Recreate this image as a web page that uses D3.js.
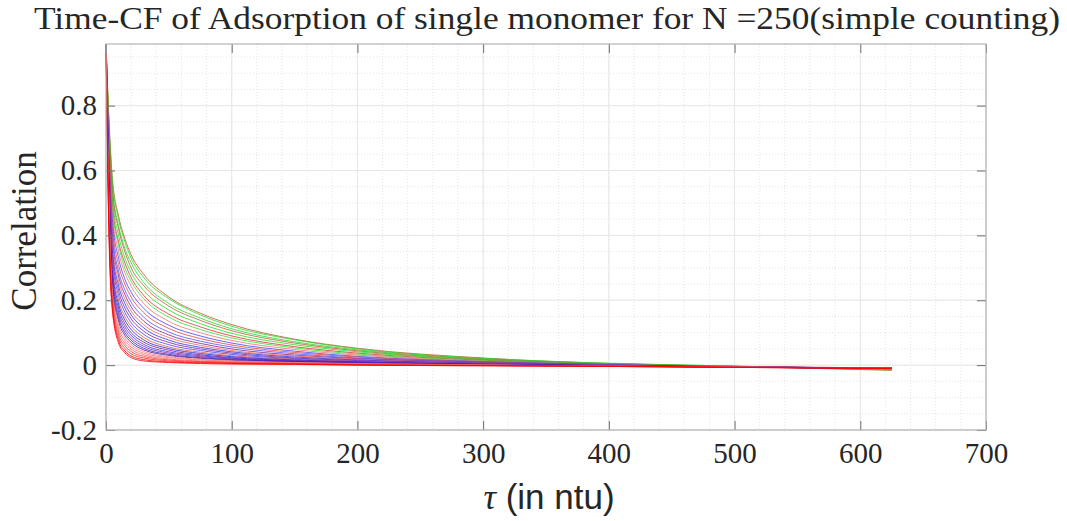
<!DOCTYPE html>
<html>
<head>
<meta charset="utf-8">
<script src="https://cdn.jsdelivr.net/npm/d3@7"></script>
<style>
  body { margin: 0; background: #fff; }
  text { fill: #262626; }
</style>
</head>
<body>
<div id="chart"></div>
<script>
// sample lags (ntu) shared by every curve
var tau = [0, 2, 5, 10, 15, 20, 30, 50, 75, 100, 150, 200, 300, 400, 500, 625];

// correlation values, slowest decay first
var curves = [
  [0.99, 0.79, 0.58, 0.46, 0.39, 0.34, 0.28, 0.21, 0.16, 0.125, 0.08, 0.052, 0.022, 0.005, -0.004, -0.012],
  [0.99, 0.78, 0.57, 0.45, 0.38, 0.33, 0.27, 0.205, 0.155, 0.12, 0.078, 0.05, 0.021, 0.006, -0.003, -0.014],
  [0.99, 0.77, 0.55, 0.43, 0.36, 0.315, 0.255, 0.19, 0.145, 0.112, 0.072, 0.047, 0.02, 0.005, -0.003, -0.015],
  [0.99, 0.76, 0.54, 0.42, 0.35, 0.30, 0.245, 0.182, 0.138, 0.106, 0.068, 0.044, 0.018, 0.004, -0.004, -0.016],
  [0.99, 0.75, 0.52, 0.40, 0.33, 0.285, 0.23, 0.17, 0.128, 0.098, 0.063, 0.041, 0.017, 0.004, -0.004, -0.012],
  [0.99, 0.74, 0.50, 0.38, 0.315, 0.27, 0.215, 0.157, 0.118, 0.09, 0.057, 0.037, 0.015, 0.003, -0.004, -0.01],
  [0.99, 0.73, 0.49, 0.37, 0.30, 0.258, 0.205, 0.148, 0.11, 0.084, 0.053, 0.034, 0.014, 0.003, -0.004, -0.013],
  [0.99, 0.72, 0.47, 0.35, 0.285, 0.243, 0.19, 0.135, 0.1, 0.076, 0.048, 0.031, 0.012, 0.002, -0.005, -0.01],
  [0.99, 0.70, 0.45, 0.33, 0.265, 0.225, 0.175, 0.123, 0.09, 0.068, 0.043, 0.027, 0.011, 0.002, -0.005, -0.009],
  [0.99, 0.69, 0.43, 0.31, 0.25, 0.21, 0.162, 0.113, 0.082, 0.062, 0.039, 0.025, 0.01, 0.001, -0.005, -0.01],
  [0.99, 0.68, 0.41, 0.29, 0.232, 0.194, 0.148, 0.102, 0.074, 0.056, 0.035, 0.022, 0.009, 0.001, -0.005, -0.009],
  [0.99, 0.67, 0.39, 0.275, 0.218, 0.18, 0.136, 0.093, 0.067, 0.05, 0.031, 0.02, 0.008, 0.0, -0.005, -0.01],
  [0.99, 0.66, 0.37, 0.26, 0.204, 0.167, 0.125, 0.085, 0.061, 0.045, 0.028, 0.018, 0.007, 0.0, -0.006, -0.008],
  [0.99, 0.65, 0.355, 0.245, 0.19, 0.155, 0.115, 0.077, 0.055, 0.041, 0.025, 0.016, 0.006, 0.0, -0.006, -0.009],
  [0.99, 0.64, 0.34, 0.23, 0.176, 0.143, 0.105, 0.07, 0.05, 0.037, 0.022, 0.014, 0.005, -0.001, -0.006, -0.01],
  [0.99, 0.63, 0.325, 0.215, 0.163, 0.131, 0.095, 0.063, 0.045, 0.033, 0.02, 0.012, 0.004, -0.001, -0.006, -0.009],
  [0.99, 0.62, 0.31, 0.2, 0.15, 0.12, 0.086, 0.056, 0.04, 0.029, 0.018, 0.011, 0.004, -0.001, -0.006, -0.008],
  [0.99, 0.61, 0.295, 0.188, 0.139, 0.11, 0.078, 0.051, 0.036, 0.026, 0.016, 0.01, 0.003, -0.002, -0.006, -0.009],
  [0.99, 0.60, 0.28, 0.176, 0.128, 0.1, 0.071, 0.046, 0.032, 0.023, 0.014, 0.009, 0.003, -0.002, -0.006, -0.01],
  [0.99, 0.59, 0.27, 0.165, 0.118, 0.092, 0.064, 0.041, 0.029, 0.021, 0.013, 0.008, 0.002, -0.002, -0.006, -0.008],
  [0.99, 0.58, 0.26, 0.155, 0.109, 0.084, 0.058, 0.037, 0.026, 0.019, 0.012, 0.007, 0.002, -0.002, -0.006, -0.009],
  [0.99, 0.575, 0.25, 0.145, 0.1, 0.077, 0.052, 0.033, 0.023, 0.017, 0.011, 0.006, 0.002, -0.002, -0.006, -0.01],
  [0.99, 0.57, 0.24, 0.135, 0.092, 0.07, 0.047, 0.03, 0.021, 0.015, 0.01, 0.006, 0.001, -0.003, -0.006, -0.008],
  [0.99, 0.56, 0.23, 0.125, 0.084, 0.063, 0.042, 0.026, 0.018, 0.013, 0.008, 0.005, 0.001, -0.003, -0.006, -0.009],
  [0.99, 0.55, 0.22, 0.115, 0.076, 0.056, 0.037, 0.023, 0.016, 0.011, 0.007, 0.004, 0.0, -0.003, -0.006, -0.008],
  [0.99, 0.54, 0.21, 0.105, 0.068, 0.049, 0.032, 0.019, 0.013, 0.009, 0.006, 0.003, 0.0, -0.003, -0.006, -0.009],
  [0.99, 0.52, 0.2, 0.095, 0.06, 0.042, 0.027, 0.016, 0.011, 0.008, 0.005, 0.002, -0.001, -0.003, -0.006, -0.008],
  [0.99, 0.50, 0.19, 0.085, 0.052, 0.035, 0.022, 0.013, 0.009, 0.006, 0.004, 0.001, -0.001, -0.004, -0.007, -0.009],
  [0.99, 0.48, 0.18, 0.075, 0.044, 0.028, 0.017, 0.01, 0.007, 0.005, 0.003, 0.0, -0.002, -0.004, -0.007, -0.01],
  [0.99, 0.46, 0.17, 0.068, 0.038, 0.023, 0.013, 0.008, 0.005, 0.003, 0.002, 0.0, -0.002, -0.004, -0.007, -0.011]
];

var curveColors = [
  "#c0552a", "#22dd22", "#33cc33", "#b06030", "#22dd22", "#e03030",
  "#33dd33", "#ee7070", "#4040ff", "#e04040", "#5050ff", "#802080",
  "#ee6060", "#3030e0", "#7a1a9a", "#4040ff", "#e05050", "#2020d0",
  "#701090", "#3030f0", "#8020a0", "#2020c0", "#6010a0", "#f08080",
  "#f07070", "#f06060", "#ff3030", "#ff2020", "#ff0000", "#ff0000"
];

var xTicks = [0, 100, 200, 300, 400, 500, 600, 700];
var yTicks = [-0.2, 0, 0.2, 0.4, 0.6, 0.8];
var xMinor = d3.range(0, 701, 20);
var yMinor = d3.range(-0.2, 0.99, 0.05);

var W = 1067, H = 521;
var margin = {top: 44, right: 81, bottom: 91, left: 106},
    width = W - margin.left - margin.right,
    height = H - margin.top - margin.bottom;

var svg = d3.select("#chart")
  .append("svg")
    .attr("width", W)
    .attr("height", H)
  .append("g")
    .attr("transform", "translate(" + margin.left + "," + margin.top + ")");

var x = d3.scaleLinear().domain([0, 700]).range([0, width]);
var y = d3.scaleLinear().domain([-0.2, 0.99]).range([height, 0]);

// minor grid (dotted)
svg.append("g").selectAll("line")
  .data(xMinor)
  .enter().append("line")
    .attr("x1", function(d) { return x(d); })
    .attr("x2", function(d) { return x(d); })
    .attr("y1", 0).attr("y2", height)
    .attr("stroke", "#e4e4e4")
    .attr("stroke-dasharray", "1,2");
svg.append("g").selectAll("line")
  .data(yMinor)
  .enter().append("line")
    .attr("y1", function(d) { return y(d); })
    .attr("y2", function(d) { return y(d); })
    .attr("x1", 0).attr("x2", width)
    .attr("stroke", "#e4e4e4")
    .attr("stroke-dasharray", "1,2");

// major grid
svg.append("g").selectAll("line")
  .data(xTicks)
  .enter().append("line")
    .attr("x1", function(d) { return x(d); })
    .attr("x2", function(d) { return x(d); })
    .attr("y1", 0).attr("y2", height)
    .attr("stroke", "#e6e6e6");
svg.append("g").selectAll("line")
  .data(yTicks)
  .enter().append("line")
    .attr("y1", function(d) { return y(d); })
    .attr("y2", function(d) { return y(d); })
    .attr("x1", 0).attr("x2", width)
    .attr("stroke", "#e6e6e6");

// curves
var line = d3.line()
  .x(function(d, i) { return x(tau[i]); })
  .y(function(d) { return y(d); })
  .curve(d3.curveMonotoneX);

svg.append("g").selectAll("path")
  .data(curves)
  .enter().append("path")
    .attr("d", line)
    .attr("fill", "none")
    .attr("stroke", function(d, i) { return curveColors[i]; })
    .attr("stroke-width", 1)
    .attr("stroke-opacity", 0.8);

// axes, MATLAB style: inward ticks on all four sides
var tickFont = "'Liberation Serif', 'DejaVu Serif', serif";

svg.append("g")
  .attr("transform", "translate(0," + height + ")")
  .call(d3.axisBottom(x).tickValues(xTicks).tickSizeInner(-9).tickSizeOuter(0).tickPadding(12));
svg.append("g")
  .call(d3.axisLeft(y).tickValues(yTicks).tickSizeInner(-9).tickSizeOuter(0).tickPadding(9)
    .tickFormat(function(d) { return String(+d.toFixed(1)); }));
svg.append("g")
  .call(d3.axisTop(x).tickValues(xTicks).tickSizeInner(-9).tickSizeOuter(0).tickFormat(""));
svg.append("g")
  .attr("transform", "translate(" + width + ",0)")
  .call(d3.axisRight(y).tickValues(yTicks).tickSizeInner(-9).tickSizeOuter(0).tickFormat(""));

svg.selectAll(".domain").remove();
svg.selectAll(".tick line").attr("stroke", "#6e6e6e");
svg.selectAll(".tick text")
  .style("font-family", tickFont)
  .style("font-size", "29px")
  .attr("fill", "#262626");

// box
svg.append("rect")
  .attr("width", width)
  .attr("height", height)
  .attr("fill", "none")
  .attr("stroke", "#b4b4b4")
  .attr("stroke-width", 1.2);

// title
svg.append("text")
  .attr("x", width / 2 + 1)
  .attr("y", -15)
  .style("text-anchor", "middle")
  .style("font-family", tickFont)
  .style("font-size", "32px")
  .attr("textLength", 1026)
  .attr("lengthAdjust", "spacingAndGlyphs")
  .text("Time-CF of Adsorption of single monomer for N =250(simple counting)");

// x label
var xl = svg.append("text")
  .attr("x", width / 2 + 3)
  .attr("y", height + 79)
  .style("text-anchor", "middle")
  .style("font-size", "35px");
xl.append("tspan")
  .style("font-family", tickFont)
  .style("font-style", "italic")
  .text("τ");
xl.append("tspan")
  .style("font-family", "'Liberation Sans Narrow', 'Liberation Sans', Arial, sans-serif")
  .text(" (in ntu)");

// y label
svg.append("text")
  .attr("transform", "rotate(-90)")
  .attr("x", -height / 2 + 6)
  .attr("y", -margin.left + 36)
  .style("text-anchor", "middle")
  .style("font-family", tickFont)
  .style("font-size", "35px")
  .text("Correlation");
</script>
</body>
</html>
